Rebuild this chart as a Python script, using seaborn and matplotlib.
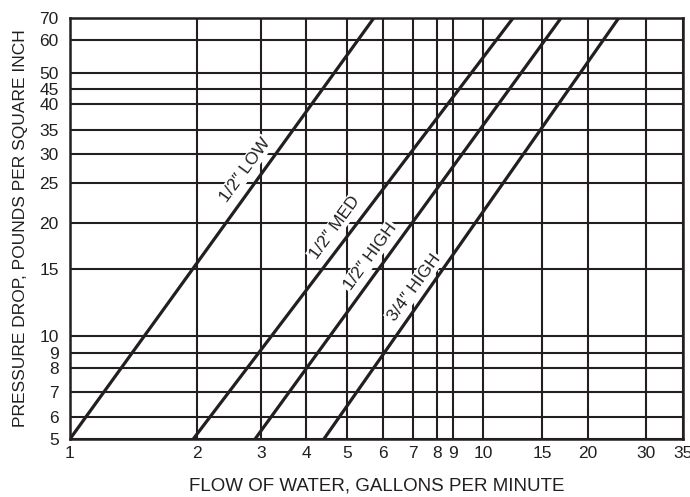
import matplotlib
matplotlib.use("Agg")
import matplotlib.pyplot as plt
import seaborn as sns
import pandas as pd
import numpy as np

# Flow (gpm) vs pressure drop (psi), line endpoints
series = ['1/2\u2033 LOW', '1/2\u2033 MED', '1/2\u2033 HIGH', '3/4\u2033 HIGH']
flow_start = [1.0, 1.96, 2.89, 4.41]
flow_end = [5.73, 12.3, 16.9, 24.8]
psi_start = [5, 5, 5, 5]
psi_end = [70, 70, 70, 70]

# label anchor points (flow, psi)
label_flow = [2.71, 4.68, 5.62, 7.04]
label_psi = [27.1, 19.4, 16.2, 13.4]

x_ticks = [1, 2, 3, 4, 5, 6, 7, 8, 9, 10, 15, 20, 30, 35]
y_ticks = [5, 6, 7, 8, 9, 10, 15, 20, 25, 30, 35, 40, 45, 50, 60, 70]

# the printed chart paper is not a perfectly even log grid;
# fraction of axis length at which each grid line sits
x_paper = np.array([0, 127, 191, 236, 277, 313, 343, 367, 383, 413, 472, 518, 576, 613]) / 613
y_paper = np.array([0, 22, 47, 71, 86, 103, 170, 216, 256, 285, 309, 335, 350, 366, 399, 421]) / 421


def paper_scale(ticks, paper):
    lt = np.log(np.array(ticks, dtype=float))

    def fwd(v):
        v = np.clip(np.asarray(v, dtype=float), 1e-6, None)
        return np.interp(np.log(v), lt, paper)

    def inv(p):
        return np.exp(np.interp(np.asarray(p, dtype=float), paper, lt))

    return fwd, inv


rows = []
for name, x0, x1, y0, y1 in zip(series, flow_start, flow_end, psi_start, psi_end):
    rows.append({'series': name, 'flow': x0, 'psi': y0})
    rows.append({'series': name, 'flow': x1, 'psi': y1})
df = pd.DataFrame(rows)

sns.set_style('white')
plt.rcParams['font.family'] = ['Liberation Sans', 'DejaVu Sans']

ink = '#231f20'
fig = plt.figure(figsize=(6.9, 4.97), dpi=100)
ax = fig.add_axes([0.1014, 0.1167, 0.8884, 0.8471])

ax.set_xscale('function', functions=paper_scale(x_ticks, x_paper))
ax.set_yscale('function', functions=paper_scale(y_ticks, y_paper))

sns.lineplot(data=df, x='flow', y='psi', units='series', estimator=None,
             color=ink, linewidth=2.3, legend=False, ax=ax, zorder=3)

ax.set_xlim(1, 35)
ax.set_ylim(5, 70)
ax.set_xticks(x_ticks)
ax.set_xticklabels([str(t) for t in x_ticks])
ax.set_yticks(y_ticks)
ax.set_yticklabels([str(t) for t in y_ticks])
ax.minorticks_off()
ax.tick_params(length=0, labelsize=12.5, colors=ink)
ax.tick_params(axis='y', pad=8)
ax.tick_params(axis='x', pad=5)

ax.grid(True, which='major', color=ink, linewidth=1.5)
ax.set_axisbelow(True)
for s in ax.spines.values():
    s.set_color(ink)
    s.set_linewidth(1.8)

for name, lx, ly in zip(series, label_flow, label_psi):
    ax.text(lx, ly, name, rotation=54, rotation_mode='anchor', ha='center',
            va='center', fontsize=12.5, color=ink, zorder=4,
            bbox=dict(facecolor='white', edgecolor='none', pad=1.0))

ax.set_xlabel('FLOW OF WATER, GALLONS PER MINUTE', fontsize=13.5, color=ink, labelpad=12)
ax.set_ylabel('PRESSURE DROP, POUNDS PER SQUARE INCH', fontsize=12.5, color=ink, labelpad=8)

fig.savefig('out.png', dpi=100)
